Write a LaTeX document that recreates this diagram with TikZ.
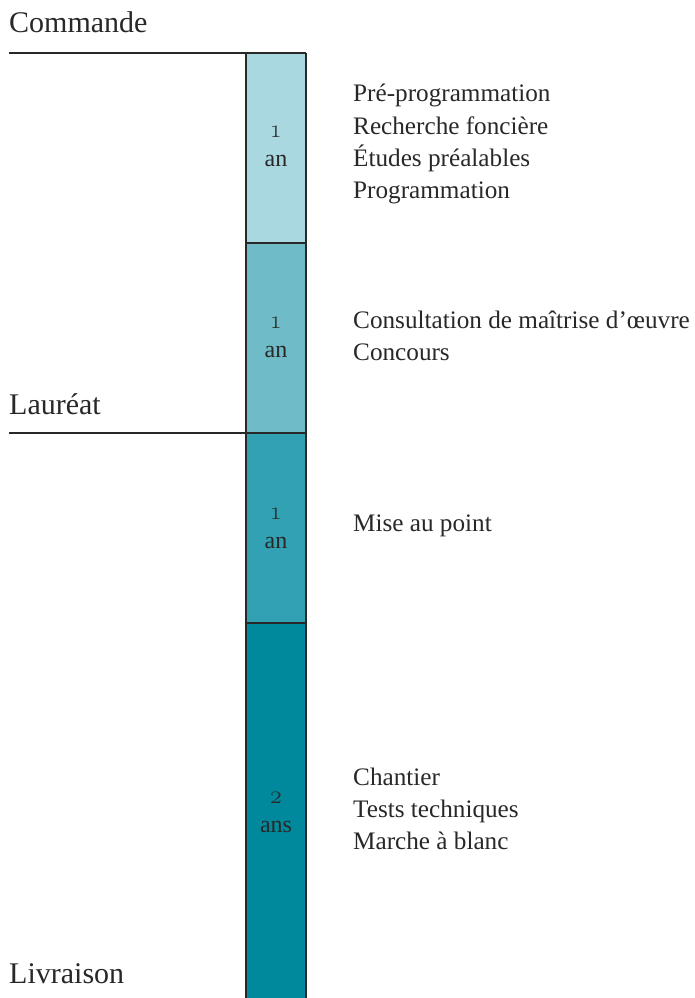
\documentclass[tikz,border=0pt]{standalone}
\usepackage{fontspec}
\setmainfont{Liberation Serif}
\newfontfamily\osf{Latin Modern Roman}[Numbers=OldStyle]
\definecolor{segA}{RGB}{170,216,224}
\definecolor{segB}{RGB}{111,187,199}
\definecolor{segC}{RGB}{49,161,179}
\definecolor{segD}{RGB}{0,137,156}
\definecolor{ink}{RGB}{40,40,40}
\tikzset{
  rule/.style={draw=ink, line width=2.2pt},
  milestone/.style={anchor=base west, inner sep=0pt, text=ink, font=\fontsize{30}{36}\selectfont},
  task/.style={anchor=base west, inner sep=0pt, text=ink, font=\fontsize{25.2}{32}\selectfont},
  dur/.style={anchor=base, inner sep=0pt, text=ink, font=\fontsize{24}{28}\selectfont},
  durnum/.style={anchor=base, inner sep=0pt, text=ink, font=\osf\fontsize{25}{28}\selectfont},
}
\begin{document}
\begin{tikzpicture}[x=1pt,y=-1pt]
\useasboundingbox (0,0) rectangle (694,998);
% segments
\fill[segA] (246,53) rectangle (306,243);
\fill[segB] (246,243) rectangle (306,433);
\fill[segC] (246,433) rectangle (306,623);
\fill[segD] (246,623) rectangle (306,1000);
\coordinate (ctl) at (246,53);
\coordinate (ctr) at (306,53);
\coordinate (cbl) at (246,1002);
\coordinate (cbr) at (306,1002);
\coordinate (cmdL) at (9,53);
\coordinate (lauL) at (9,433);
\coordinate (d1l) at (246,243);
\coordinate (d1r) at (306,243);
\coordinate (d2r) at (306,433);
\coordinate (d3l) at (246,623);
\coordinate (d3r) at (306,623);
\draw[rule] (ctl) -- (cbl);
\draw[rule] (ctr) -- (cbr);
\draw[rule] (cmdL) -- (ctr);
\draw[rule] (lauL) -- (d2r);
\draw[rule] (d1l) -- (d1r);
\draw[rule] (d3l) -- (d3r);
% milestones
\node[milestone] (cmd) at (9,33) {Commande};
\node[milestone] (lau) at (9,414) {Lauréat};
\node[milestone] (liv) at (9,983) {Livraison};
% durations
\node[durnum] (n1) at (276,137) {1};
\node[dur] (u1) at (276,166) {an};
\node[durnum] (n2) at (276,328) {1};
\node[dur] (u2) at (276,357) {an};
\node[durnum] (n3) at (276,519) {1};
\node[dur] (u3) at (276,548) {an};
\node[durnum] (n4) at (276,803) {2};
\node[dur] (u4) at (276,832) {ans};
% tasks
\node[task] (t1) at (353,101.7) {Pré-programmation};
\node[task] (t2) at (353,134) {Recherche foncière};
\node[task] (t3) at (353,166) {Études préalables};
\node[task] (t4) at (353,198) {Programmation};
\node[task] (t5) at (353,328) {Consultation de maîtrise d’œuvre};
\node[task] (t6) at (353,360) {Concours};
\node[task] (t7) at (353,531) {Mise au point};
\node[task] (t8) at (353,785) {Chantier};
\node[task] (t9) at (353,817) {Tests techniques};
\node[task] (t10) at (353,849) {Marche à blanc};
\end{tikzpicture}
\end{document}
